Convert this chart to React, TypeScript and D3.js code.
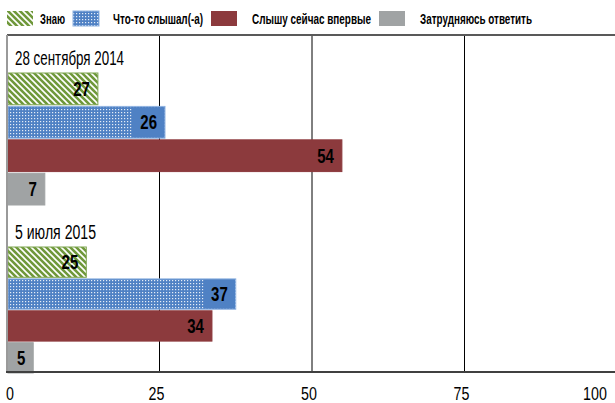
import { scaleBand, scaleLinear, select } from 'd3';
import { useEffect, useRef } from 'react';

const periods = ['28 сентября 2014', '5 июля 2015'];
const seriesNames = [
  'Знаю',
  'Что-то слышал(-а)',
  'Слышу сейчас впервые',
  'Затрудняюсь ответить'
];
// bar lengths as they are drawn in the picture
const bars2014 = [14.9, 25.9, 54.9, 6.2];
const bars2015 = [13.0, 37.5, 33.6, 4.3];
// numbers printed on the bars
const labels2014 = [27, 26, 54, 7];
const labels2015 = [25, 37, 34, 5];
const xTicks = [0, 25, 50, 75, 100];

const FONT = "'Liberation Sans', Arial, sans-serif";
const fills = ['url(#hatch)', 'url(#dots)', '#8c3a3d', '#a0a3a4'];
const strokes = ['#7fa650', '#8db1e0', '#8c3a3d', '#a0a3a4'];

// squeeze a text horizontally so it looks like a narrow face
const condense = (node: SVGTextElement | null, factor: number): void => {
  if (!node) return;
  const len = node.getComputedTextLength();
  node.setAttribute('textLength', String(len * factor));
  node.setAttribute('lengthAdjust', 'spacingAndGlyphs');
};

function App(): JSX.Element {
  const svgRef = useRef<SVGSVGElement | null>(null);
  const width = 615;
  const height = 403;

  useEffect(() => {
    document.body.style.margin = '0';
    if (svgRef.current) svgRef.current.innerHTML = '';
    const svg = select(svgRef.current);
    svg.attr('width', width).attr('height', height);

    const top = 35;
    const bottom = 372;
    const x = scaleLinear().domain([0, 100]).range([7, 617]);

    // patterns
    const defs = svg.append('defs');
    const hatch = defs
      .append('pattern')
      .attr('id', 'hatch')
      .attr('patternUnits', 'userSpaceOnUse')
      .attr('width', 6)
      .attr('height', 6);
    hatch.append('rect').attr('width', 6).attr('height', 6).attr('fill', '#6f983a');
    hatch
      .append('path')
      .attr('d', 'M-1,-1 L7,7 M-4,2 L2,8 M2,-4 L8,2')
      .attr('stroke', '#fff')
      .attr('stroke-width', 1.6);

    const dots = defs
      .append('pattern')
      .attr('id', 'dots')
      .attr('patternUnits', 'userSpaceOnUse')
      .attr('width', 3)
      .attr('height', 3);
    dots.append('rect').attr('width', 3).attr('height', 3).attr('fill', '#4f81c4');
    dots
      .append('rect')
      .attr('x', 1)
      .attr('y', 1)
      .attr('width', 1.2)
      .attr('height', 1.2)
      .attr('fill', '#ffffff')
      .attr('opacity', 0.85);

    // gridlines
    xTicks.slice(1, -1).forEach((t) => {
      svg
        .append('line')
        .attr('x1', x(t))
        .attr('x2', x(t))
        .attr('y1', top)
        .attr('y2', bottom)
        .attr('stroke', '#000')
        .attr('stroke-width', 1);
    });

    // frame top line
    svg
      .append('line')
      .attr('x1', 7)
      .attr('x2', width)
      .attr('y1', top)
      .attr('y2', top)
      .attr('stroke', '#595959')
      .attr('stroke-width', 2);

    // bars
    const groupRanges: [number, number][] = [
      [73, 205],
      [247, 373]
    ];
    const periodWidths = [109, 81];
    const values = [bars2014, bars2015];
    const labels = [labels2014, labels2015];

    periods.forEach((period, g) => {
      const y = scaleBand<string>()
        .domain(seriesNames)
        .range(groupRanges[g])
        .paddingInner(0.05);

      svg
        .append('text')
        .attr('x', 15)
        .attr('y', groupRanges[g][0] - 8)
        .text(period)
        .attr('font-family', FONT)
        .attr('font-size', '20px')
        .attr('textLength', periodWidths[g])
        .attr('lengthAdjust', 'spacingAndGlyphs')
        .attr('fill', '#000');

      seriesNames.forEach((name, i) => {
        const v = values[g][i];
        const by = y(name) ?? 0;
        const bh = y.bandwidth();
        svg
          .append('rect')
          .attr('x', x(0) + 1)
          .attr('y', by)
          .attr('width', x(v) - x(0) - 1)
          .attr('height', bh)
          .attr('fill', fills[i])
          .attr('stroke', strokes[i])
          .attr('stroke-width', 1);

        if (i === 1) {
          // solid patch behind the number
          svg
            .append('rect')
            .attr('x', x(v) - 32)
            .attr('y', by + 1)
            .attr('width', 31)
            .attr('height', bh - 2)
            .attr('fill', '#4f81c4');
        }

        const t = svg
          .append('text')
          .attr('x', x(v) - 8)
          .attr('y', by + bh / 2)
          .attr('dy', '0.36em')
          .text(labels[g][i])
          .style('text-anchor', 'end')
          .attr('font-family', FONT)
          .attr('font-weight', 'bold')
          .attr('font-size', '20px')
          .attr('fill', '#000');
        condense(t.node(), 0.75);
      });
    });

    // axes
    svg
      .append('line')
      .attr('x1', 7)
      .attr('x2', 7)
      .attr('y1', top)
      .attr('y2', bottom)
      .attr('stroke', '#9a9a9a')
      .attr('stroke-width', 2);
    svg
      .append('line')
      .attr('x1', 6)
      .attr('x2', width)
      .attr('y1', bottom)
      .attr('y2', bottom)
      .attr('stroke', '#404040')
      .attr('stroke-width', 2);

    xTicks.forEach((tk) => {
      const t = svg
        .append('text')
        .attr('x', Math.min(x(tk) - 3, 595) + (tk === 0 ? 6 : 0))
        .attr('y', 393)
        .attr('dy', '0.36em')
        .text(tk)
        .style('text-anchor', 'middle')
        .attr('font-family', FONT)
        .attr('font-size', '19px')
        .attr('fill', '#000');
      condense(t.node(), 0.75);
    });

    // legend
    const legendX = [7, 73, 211, 379];
    const textX = [40, 113, 252, 420];
    const textW = [25, 90, 119, 112];
    seriesNames.forEach((name, i) => {
      svg
        .append('rect')
        .attr('x', legendX[i])
        .attr('y', 11)
        .attr('width', 26)
        .attr('height', 15)
        .attr('fill', fills[i])
        .attr('stroke', i === 1 ? '#8db1e0' : 'none');
      svg
        .append('text')
        .attr('x', textX[i])
        .attr('y', 18.5)
        .attr('dy', '0.36em')
        .text(name)
        .attr('font-family', FONT)
        .attr('font-weight', 'bold')
        .attr('font-size', '14px')
        .attr('textLength', textW[i])
        .attr('lengthAdjust', 'spacingAndGlyphs')
        .attr('fill', '#000');
    });
  }, []);

  return (
    <div style={{ position: 'relative' }}>
      <svg ref={svgRef} style={{ display: 'block' }} />
    </div>
  );
}

export default App;
